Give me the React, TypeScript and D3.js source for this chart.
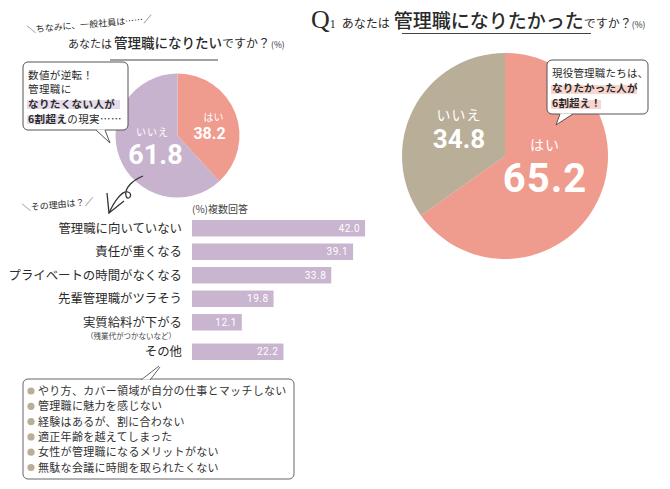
import React from "react";
import * as d3 from "d3";

const W = 670;
const H = 489;

const pieCats = ["はい", "いいえ"];
const employeeValues = [38.2, 61.8];
const managerValues = [65.2, 34.8];

const reasons = [
  "管理職に向いていない",
  "責任が重くなる",
  "プライベートの時間がなくなる",
  "先輩管理職がツラそう",
  "実質給料が下がる",
  "その他",
];
const reasonValues = [42.0, 39.1, 33.8, 19.8, 12.1, 22.2];
const reasonNote = "（残業代がつかないなど）";

const otherReasons = [
  "やり方、カバー領域が自分の仕事とマッチしない",
  "管理職に魅力を感じない",
  "経験はあるが、割に合わない",
  "適正年齢を越えてしまった",
  "女性が管理職になるメリットがない",
  "無駄な会議に時間を取られたくない",
];

const SALMON = "#ef9b8d";
const LAVENDER = "#c7b3cd";
const TAN = "#b9ae98";
const BAR = "#c9b5cf";
const TEXT = "#2a2a2a";
const JP = "'Noto Sans CJK JP', 'Noto Sans', sans-serif";
const NUM = "Roboto, 'Noto Sans', sans-serif";

function Pie({ cx, cy, r, values, colors }: { cx: number; cy: number; r: number; values: number[]; colors: string[] }) {
  const arcs = d3.pie<number>().sort(null).value((d) => d)(values);
  const arc = d3.arc<d3.PieArcDatum<number>>().innerRadius(0).outerRadius(r);
  return (
    <g transform={`translate(${cx},${cy})`}>
      {arcs.map((a, i) => (
        <path key={pieCats[i]} d={arc(a) || ""} fill={colors[i]} />
      ))}
    </g>
  );
}

export default function App() {
  const x = d3.scaleLinear().domain([0, 50]).range([0, 206]);
  const barX0 = 192;
  const y = d3.scaleBand<string>().domain(reasons).range([220, 354]).paddingInner(0.3).paddingOuter(0);
  const yPos = (c: string, i: number) => (y(c) as number) + (i === reasons.length - 1 ? 6 : 0);

  const lcx = 177.5, lcy = 135.5, lr = 62;
  const rcx = 505, rcy = 156, rr = 103;

  return (
    <svg width={W} height={H} viewBox={`0 0 ${W} ${H}`} style={{ position: "absolute", left: 0, top: 0, background: "#fff" }}
      fontFamily={JP}>
      <rect x={0} y={0} width={W} height={H} fill="#fff" />

      {/* ===== Left header ===== */}
      <text x={27} y={33} fontSize={9} fill={TEXT} transform="rotate(-5 27 33)">＼ちなみに、一般社員は……／</text>
      <text x={68} y={48} fill={TEXT}>
        <tspan fontSize={11}>あなたは</tspan>
        <tspan fontSize={13.5} fontWeight={500} dx={2}>管理職になりたい</tspan>
        <tspan fontSize={12}>ですか？</tspan>
        <tspan fontSize={8.5} dx={1}>(%)</tspan>
      </text>
      <line x1={110} x2={218} y1={60} y2={60} stroke="#444" strokeWidth={1.2} />

      {/* left pie */}
      <Pie cx={lcx} cy={lcy} r={lr} values={employeeValues} colors={[SALMON, LAVENDER]} />
      <text x={lcx + 36} y={lcy - 15} fontSize={10} fill="#fff" textAnchor="middle">{pieCats[0]}</text>
      <text x={lcx + 32} y={lcy + 3} fontSize={16} fontWeight={700} fill="#fff" textAnchor="middle" fontFamily={NUM}>{employeeValues[0].toFixed(1)}</text>
      <text x={lcx - 25} y={lcy} fontSize={10} fill="#fff" textAnchor="middle" letterSpacing={1}>{pieCats[1]}</text>
      <text x={lcx - 22} y={lcy + 28} fontSize={27} fontWeight={700} fill="#fff" textAnchor="middle" fontFamily={NUM}>{employeeValues[1].toFixed(1)}</text>

      {/* left callout */}
      <rect x={23} y={62} width={105} height={68} rx={5} fill="#fff" stroke="#555" strokeWidth={1} />
      <path d="M96,129.5 L110,143 L105,129.5 Z" fill="#fff" stroke="none" />
      <path d="M96,130 L110,143 L105,130" fill="none" stroke="#555" strokeWidth={1} />
      <rect x={27} y={100} width={93} height={9} fill="#e6dbea" />
      <rect x={27} y={115} width={36} height={9} fill="#e6dbea" />
      <g fontSize={10.5} fill={TEXT} letterSpacing={0.4}>
        <text x={28} y={78.5}>数値が逆転！</text>
        <text x={28} y={93}>管理職に</text>
        <text x={28} y={108} fontWeight={700}>なりたくない人が</text>
        <text x={28} y={123}><tspan fontWeight={700}>6割超え</tspan><tspan>の現実……</tspan></text>
      </g>

      {/* arrow */}
      <path d="M143,176 C133,180 124,188 126,196 C128,202 134,194 128,192 C122,190 114,202 109,213" fill="none" stroke="#333" strokeWidth={1.3} />
      <path d="M107,193 L109,213 L124,201" fill="none" stroke="#333" strokeWidth={1.3} />
      <text x={22} y={211} fontSize={9} fill={TEXT} transform="rotate(-5 22 211)">＼その理由は？／</text>

      {/* ===== Bars ===== */}
      <text x={barX0} y={213} fontSize={10} fill="#444">(%)複数回答</text>
      {reasons.map((c, i) => {
        const yy = yPos(c, i);
        const bh = y.bandwidth();
        return (
          <g key={c}>
            <rect x={barX0} y={yy} width={x(reasonValues[i])} height={bh} fill={BAR} />
            <text x={barX0 + x(reasonValues[i]) - 5} y={yy + bh / 2 + 3.5} fontSize={10} fill="#fff" textAnchor="end" fontFamily={NUM} letterSpacing={0.5}>
              {reasonValues[i].toFixed(1)}
            </text>
            <text x={182} y={yy + bh / 2 + 4.3} fontSize={12.4} fill={TEXT} textAnchor="end">{c}</text>
          </g>
        );
      })}
      <text x={176} y={yPos(reasons[4], 4) + y.bandwidth() + 8.5} fontSize={7.5} fill="#444" textAnchor="end">{reasonNote}</text>

      {/* bottom box */}
      <rect x={23} y={379} width={271} height={100} rx={5} fill="#fff" stroke="#666" strokeWidth={1} />
      <path d="M141,379.5 L159,366 L150,379.5 Z" fill="#fff" stroke="none" />
      <path d="M141,380 L159,366 M150,380 L160,367" fill="none" stroke="#666" strokeWidth={1} />
      {otherReasons.map((t, i) => (
        <g key={t}>
          <circle cx={31} cy={391 + i * 15.3} r={3.6} fill={TAN} />
          <text x={38} y={395 + i * 15.3} fontSize={11} fill="#333" letterSpacing={0.3}>{t}</text>
        </g>
      ))}

      {/* ===== Right header ===== */}
      <text x={311} y={28} fill={TEXT}>
        <tspan fontFamily="'Liberation Serif', 'DejaVu Serif', serif" fontSize={26}>Q</tspan>
        <tspan fontFamily="'Liberation Serif', 'DejaVu Serif', serif" fontSize={12} dx={0}>1</tspan>
        <tspan fontSize={12} dx={6}>あなたは</tspan>
        <tspan fontSize={19} fontWeight={500} dx={4}>管理職になりたかった</tspan>
        <tspan fontSize={12}>ですか？</tspan>
        <tspan fontSize={8.5}>(%)</tspan>
      </text>
      <line x1={402} x2={591} y1={33.5} y2={33.5} stroke="#444" strokeWidth={1.2} />

      {/* right pie */}
      <Pie cx={rcx} cy={rcy} r={rr} values={managerValues} colors={[SALMON, TAN]} />
      <text x={rcx + 40} y={rcy - 6} fontSize={14} fill="#fff" textAnchor="middle" letterSpacing={1}>{pieCats[0]}</text>
      <text x={rcx + 40} y={rcy + 36} fontSize={40} fontWeight={700} fill="#fff" textAnchor="middle" fontFamily={NUM} letterSpacing={1}>{managerValues[0].toFixed(1)}</text>
      <text x={rcx - 46} y={rcy - 36} fontSize={14} fill="#fff" textAnchor="middle" letterSpacing={1}>{pieCats[1]}</text>
      <text x={rcx - 46} y={rcy - 8} fontSize={26} fontWeight={700} fill="#fff" textAnchor="middle" fontFamily={NUM}>{managerValues[1].toFixed(1)}</text>

      {/* right callout */}
      <rect x={547} y={60} width={101} height={54} rx={5} fill="#fff" stroke="#555" strokeWidth={1} />
      <path d="M560,113.5 L556,125 L573,113.5 Z" fill="#fff" stroke="none" />
      <path d="M560,114 L556,125 L573,114" fill="none" stroke="#555" strokeWidth={1} />
      <rect x={551} y={85} width={86} height={9} fill="#f8d5ce" />
      <rect x={551} y={100} width={50} height={9} fill="#f8d5ce" />
      <g fontSize={10.5} fill={TEXT} letterSpacing={0.2}>
        <text x={552} y={77}>現役管理職たちは、</text>
        <text x={552} y={92} fontWeight={700}>なりたかった人が</text>
        <text x={552} y={107} fontWeight={700}>6割超え！</text>
      </g>
    </svg>
  );
}
